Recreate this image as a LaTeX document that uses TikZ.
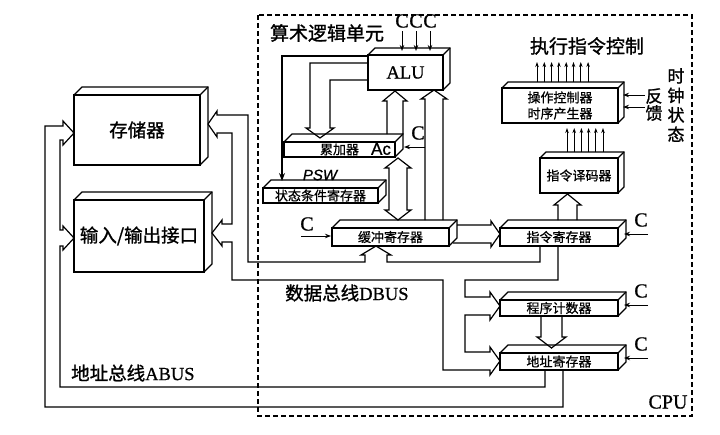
\documentclass[tikz,border=0pt]{standalone}
\usepackage{fontspec}
\setmainfont{Liberation Serif}
\newfontfamily\cjk[FakeBold=1.2]{Noto Sans CJK SC}
\newfontfamily\cjks[FakeBold=0.8]{Noto Sans CJK SC}
\newfontfamily\lat[FakeBold=0.8]{Liberation Serif}
\newfontfamily\hand[FakeBold=1]{Liberation Sans}
\usetikzlibrary{arrows.meta}
\newcommand\threed[2]{%
  \draw[boxline] (#1.north west) -- ++(#2pt,#2pt) -- ([shift={(#2pt,#2pt)}]#1.north east) -- ([shift={(#2pt,#2pt)}]#1.south east) -- (#1.south east);
  \draw[boxline] (#1.north east) -- ++(#2pt,#2pt);}
\tikzset{
  boxline/.style={line width=1.2pt, line join=miter},
  cube/.style={draw, boxline, fill=white, inner sep=0pt, outer sep=0pt},
  bus/.style={line width=1.2pt, line join=miter},
  carrow/.style={line width=1pt, -{Stealth[length=6pt,width=4.5pt]}},
  thinarrow/.style={line width=0.9pt, -{Stealth[length=5pt,width=3.5pt]}},
  bigtxt/.style={font=\cjk\fontsize{18.5}{20}\selectfont},
  midtxt/.style={font=\cjk\fontsize{17}{19}\selectfont},
  smalltxt/.style={font=\cjks\fontsize{13}{16}\selectfont},
  lattxt/.style={font=\lat\fontsize{20}{22}\selectfont},
}
\begin{document}
\begin{tikzpicture}[x=1pt,y=-1pt]
\useasboundingbox (0,0) rectangle (720,434);
\fill[white] (0,0) rectangle (720,434);

% CPU frame
\draw[line width=1.2pt, dash pattern=on 5pt off 3pt] (258,15) rectangle (692,416);

% boxes
\node[cube, bigtxt, minimum width=126pt, minimum height=70pt] (mem) at (137,130) {存储器};
\threed{mem}{8}
\node[cube, bigtxt, minimum width=130pt, minimum height=72pt] (io) at (139,236) {输入/输出接口};
\threed{io}{8}
\node[cube, font=\lat\fontsize{18.5}{20}\selectfont, minimum width=75pt, minimum height=35pt] (alu) at (405.5,72.5) {ALU};
\threed{alu}{7}
\node[cube, smalltxt, minimum width=111pt, minimum height=15pt] (acc) at (339.5,149.5) {累加器};
\threed{acc}{8}
\node[cube, smalltxt, minimum width=115pt, minimum height=15pt] (psw) at (320.5,195.5) {状态条件寄存器};
\threed{psw}{8}
\node[cube, smalltxt, minimum width=117pt, minimum height=18pt] (buf) at (390.5,237) {缓冲寄存器};
\threed{buf}{8}
\node[cube, smalltxt, minimum width=118pt, minimum height=18pt] (ir) at (559,237) {指令寄存器};
\threed{ir}{8}
\node[cube, smalltxt, minimum width=118pt, minimum height=16pt] (pc) at (559,308) {程序计数器};
\threed{pc}{8}
\node[cube, smalltxt, minimum width=118pt, minimum height=17pt] (ar) at (559,361.5) {地址寄存器};
\threed{ar}{8}
\node[cube, smalltxt, minimum width=78pt, minimum height=35pt] (dec) at (579,175.5) {指令译码器};
\threed{dec}{6}
\node[cube, smalltxt, align=center, minimum width=116pt, minimum height=35pt] (ctl) at (560,105.5) {操作控制器\\时序产生器};
\threed{ctl}{6}

% address bus
\draw[bus] (74,133) -- (63,121) -- (63,126) -- (45,126) -- (45,407) -- (563,407) -- (563,370);
\draw[bus] (74,133) -- (63,145) -- (63,140) -- (60,140) -- (60,230) -- (63,230) -- (63,226) -- (74,238) -- (63,250) -- (63,246) -- (60,246) -- (60,387) -- (545,387) -- (545,370);

% data bus
\draw[bus] (208,124) -- (217,111) -- (217,115) -- (248,115) -- (248,262) -- (365,262) -- (365,255) -- (361,255) -- (376,246) -- (391,255) -- (387,255) -- (387,262) -- (540,262) -- (540,246);
\draw[bus] (208,124) -- (217,137) -- (217,133) -- (232,133) -- (232,224) -- (222,224) -- (222,220) -- (212,233) -- (222,246) -- (222,242) -- (232,242) -- (232,280) -- (443,280) -- (443,370) -- (490,370) -- (490,375) -- (500,361);
\draw[bus] (558,246) -- (558,280) -- (465,280) -- (465,297) -- (490,297) -- (490,292) -- (500,306) -- (490,320) -- (490,315) -- (465,315) -- (465,352) -- (490,352) -- (490,347) -- (500,361);

% internal hollow arrows
\draw[bus] (541,316) -- (541,337) -- (537,337) -- (551.5,348) -- (566,337) -- (562,337) -- (562,316);
\draw[bus] (457,225) -- (491,225) -- (491,221) -- (500,234) -- (491,247) -- (491,243) -- (453,243);
\draw[bus] (558,220) -- (558,205) -- (554,205) -- (567.5,194) -- (581,205) -- (577,205) -- (577,220);
\draw[bus] (398,158) -- (411,168) -- (407,168) -- (407,210) -- (411,210) -- (398,220) -- (385,210) -- (389,210) -- (389,168) -- (385,168) -- cycle;
\draw[bus] (425,220) -- (425,99) -- (421,99) -- (434,90) -- (447,99) -- (443,99) -- (443,220);
\draw[bus] (387,134) -- (387,101) -- (383,101) -- (395,91) -- (407,101) -- (403,101) -- (403,134);
\draw[bus] (368,63) -- (310,63) -- (310,128) -- (306,128) -- (320,138) -- (334,128) -- (330,128) -- (330,80) -- (368,80);
\draw[bus, -{Stealth[length=8pt,width=6pt]}] (368,56) -- (282,56) -- (282,181);

% control inputs C
\foreach \x/\n in {402/c1,416/c2,430/c3}{
  \node[lattxt] (\n) at (\x,21) {C};
  \draw[carrow] (\x,31) -- (\x,51);
}
\node[lattxt] (cacc) at (418,133) {C};
\draw[carrow] (425,147) -- (404,147);
\node[lattxt] (cbuf) at (307,224) {C};
\draw[carrow] (301,236) -- (331,236);
\node[lattxt] (cir) at (641,220) {C};
\draw[carrow] (648,234) -- (624,234);
\node[lattxt] (cpc) at (641,291) {C};
\draw[carrow] (648,305) -- (624,305);
\node[lattxt] (car) at (641,344) {C};
\draw[carrow] (648,358) -- (624,358);

% feedback
\node[midtxt] (fan) at (654,96) {反};
\node[midtxt] (kui) at (654,113) {馈};
\draw[carrow] (645,95) -- (623,95);
\draw[carrow] (645,107) -- (623,107);
\node[align=center, font=\cjk\fontsize{17}{19.5}\selectfont] (clk) at (676,105) {时\\钟\\状\\态};

% control signal arrows
\foreach \i in {0,...,7}{
  \draw[thinarrow] (537+7.3*\i,82) -- (537+7.3*\i,62);
}
\foreach \i in {0,...,5}{
  \draw[thinarrow] (567+7.2*\i,152) -- (567+7.2*\i,128);
}

% labels
\node[font=\cjk\fontsize{19}{21}\selectfont] (alutitle) at (327,33) {算术逻辑单元};
\node[font=\cjk\fontsize{19}{21}\selectfont] (exec) at (587,46) {执行指令控制};
\node[bigtxt, anchor=west, inner sep=0pt] (dbus) at (285,293) {数据总线{\lat DBUS}};
\node[bigtxt, anchor=west, inner sep=0pt] (abus) at (71,373) {地址总线{\lat ABUS}};
\node[font=\lat\fontsize{20}{22}\selectfont] (cpu) at (668,402) {CPU};
\node[font=\hand\itshape\fontsize{15}{17}\selectfont] (pswl) at (320,175) {PSW};
\node[font=\hand\fontsize{17}{18}\selectfont] (acl) at (381,149) {Ac};
\end{tikzpicture}
\end{document}
